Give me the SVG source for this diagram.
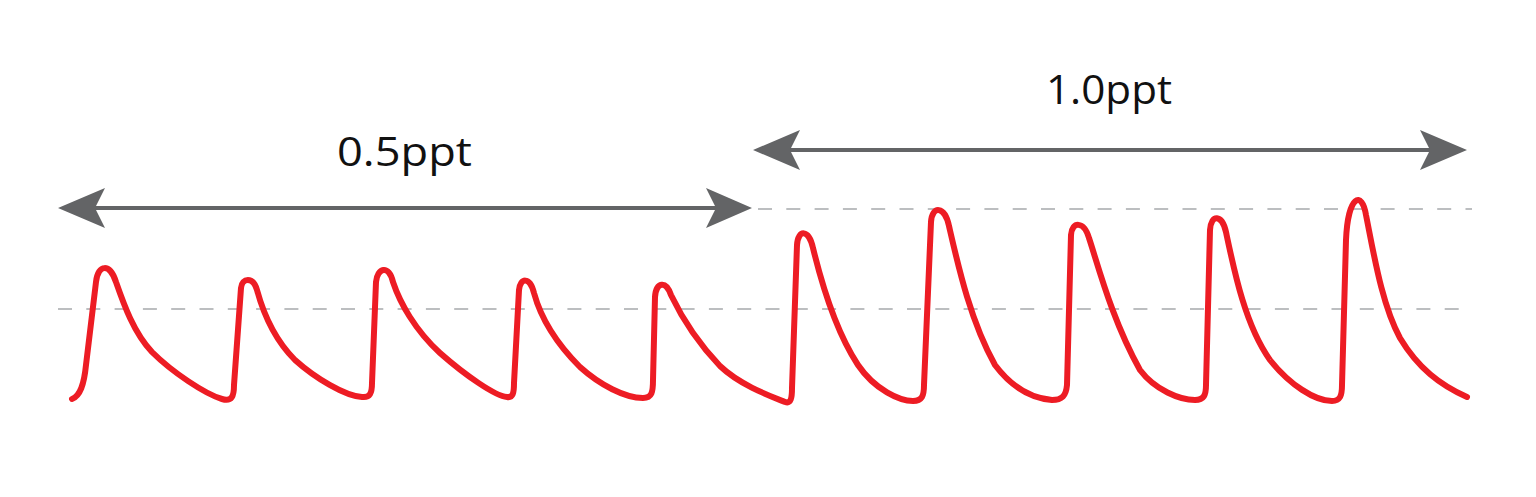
<svg xmlns="http://www.w3.org/2000/svg" width="1536" height="497" viewBox="0 0 1536 497">
<style>
.dash{stroke:#bcbec0;stroke-width:2;stroke-dasharray:14 14.3;fill:none}
.arr{stroke:#636466;stroke-width:4;fill:none}
.head{fill:#636466}
.lbl{font-family:"Open Sans","Liberation Sans",sans-serif;font-size:41px;fill:#111}
.ecg{stroke:#ed1c24;stroke-width:6;fill:none;stroke-linecap:round;stroke-linejoin:round}
</style>
<rect width="1536" height="497" fill="#fff"/>
<g id="guides">
<line class="dash" x1="58" y1="309" x2="1472" y2="309"/>
<line class="dash" x1="758" y1="209" x2="1472" y2="209"/>
</g>
<g id="connectors">
<g id="arrow-05">
<line class="arr" x1="92" y1="208" x2="718" y2="208"/>
<path class="head" d="M58,208 L105,188 L95,208 L105,228 Z"/>
<path class="head" d="M752,208 L706,188 L716,208 L706,228 Z"/>
</g>
<g id="arrow-10">
<line class="arr" x1="787" y1="150" x2="1433" y2="150"/>
<path class="head" d="M753,150 L800,130 L790,150 L800,170 Z"/>
<path class="head" d="M1467,150 L1420,130 L1430,150 L1420,170 Z"/>
</g>
</g>
<g id="label-05"><text class="lbl" x="337" y="166" textLength="135" lengthAdjust="spacingAndGlyphs">0.5ppt</text></g>
<g id="label-10"><text class="lbl" x="1046" y="104" textLength="126" lengthAdjust="spacingAndGlyphs">1.0ppt</text></g>
<g id="trace">
<path class="ecg" d="M72,399 C80,396 84,385 86,365 L96,282 C98,264 110,263 116,282
C124,305 134,333 152,352 C172,372 205,394 222,399 C232,402 234,396 234,385 L241,288
C242,278 253,276 257,290 C263,312 275,340 295,360 C315,378 345,396 362,397 C370,398 372,393 372,383 L376,282
C377,268 389,264 393,282 C400,303 415,330 440,353 C465,375 495,396 507,397 C513,398 514,393 514,383 L519,290
C520,278 530,276 534,293 C540,315 555,342 580,367 C600,385 625,398 643,398 C652,398 653,392 653,380 L655,297
C656,282 666,280 671,295 C682,318 700,345 720,366 C740,385 770,396 785,402 C791,404 792,398 792,388 L797,245
C798,229 809,229 813,248 C822,285 835,330 858,365 C875,390 900,401 913,401 C922,401 924,396 924,385 L931,222
C932,205 945,206 949,226 C958,265 970,320 995,365 C1010,385 1030,398 1052,400 C1062,400 1066,396 1067,385 L1071,235
C1072,221 1084,221 1089,238 C1098,265 1112,320 1140,370 C1155,390 1180,400 1195,400 C1204,400 1206,395 1206,385 L1210,230
C1211,214 1222,214 1226,232 C1234,270 1245,325 1270,360 C1290,385 1315,401 1332,401 C1340,401 1342,396 1342,385 L1346,240
C1348,195 1362,190 1366,215 C1374,255 1382,305 1400,338 C1418,368 1440,385 1467,397"/>
</g>
</svg>
